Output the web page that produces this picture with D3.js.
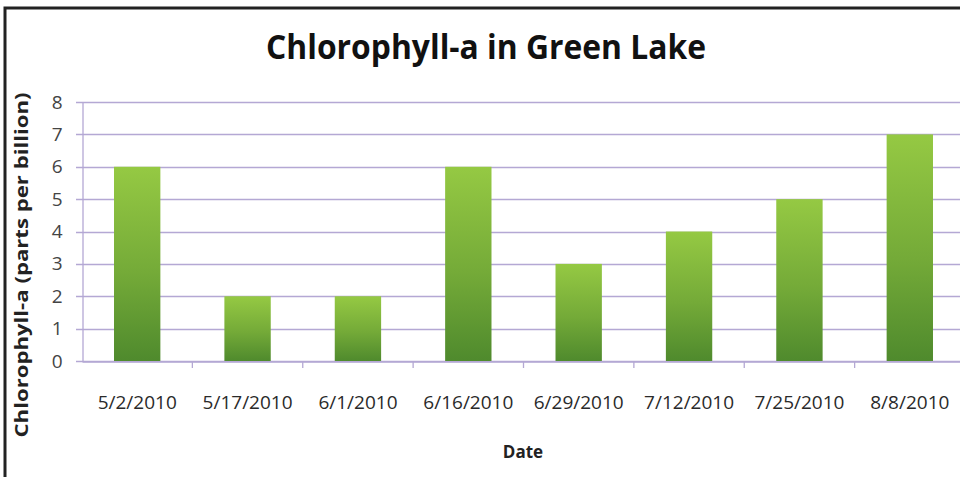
<!DOCTYPE html>
<html>
<head>
<meta charset="utf-8">
<script src="https://cdn.jsdelivr.net/npm/d3@7"></script>
<style>
  body { margin: 0; background: #fff; }
  svg { display: block; }
</style>
</head>
<body>
<svg id="chart"></svg>
<script>
// data
var dates = ["5/2/2010", "5/17/2010", "6/1/2010", "6/16/2010",
  "6/29/2010", "7/12/2010", "7/25/2010", "8/8/2010"];
var chlorophyll = [6, 2, 2, 6, 3, 4, 5, 7];
var yTicks = [0, 1, 2, 3, 4, 5, 6, 7, 8];

var width = 960, height = 477;
var plot = { left: 82, right: 965, top: 102, bottom: 361 };
var gridColor = "#b4a8d4";
var font = "'Open Sans', 'DejaVu Sans', sans-serif";

var svg = d3.select("#chart").attr("width", width).attr("height", height);

svg.append("rect").attr("width", width).attr("height", height).attr("fill", "#fff");

// bar gradient, yellow-green on top fading to darker green
var grad = svg.append("defs").append("linearGradient")
  .attr("id", "barFill")
  .attr("x1", 0).attr("y1", 0).attr("x2", 0).attr("y2", 1);
grad.append("stop").attr("offset", "0%").attr("stop-color", "#95c943");
grad.append("stop").attr("offset", "55%").attr("stop-color", "#74aa38");
grad.append("stop").attr("offset", "100%").attr("stop-color", "#4f8a2d");

var x = d3.scaleBand()
  .domain(dates)
  .range([plot.left, plot.right])
  .paddingInner(0.58)
  .paddingOuter(0.29);

var y = d3.scaleLinear()
  .domain([0, 8])
  .range([plot.bottom, plot.top]);

// horizontal grid lines
svg.append("g")
  .selectAll("line")
  .data(yTicks)
  .enter()
  .append("line")
  .attr("x1", plot.left - 6)
  .attr("x2", width)
  .attr("y1", (d) => Math.round(y(d)) + 0.5)
  .attr("y2", (d) => Math.round(y(d)) + 0.5)
  .attr("stroke", gridColor)
  .attr("stroke-width", 1.3);

// y axis
var yAxis = svg.append("g")
  .attr("transform", "translate(" + (plot.left + 0.5) + ",0)")
  .call(d3.axisLeft(y).tickValues(yTicks).tickSize(0).tickPadding(20));
yAxis.select(".domain").attr("stroke", gridColor).attr("stroke-width", 1.3);
yAxis.selectAll("text")
  .attr("font-family", font)
  .attr("font-size", 19)
  .attr("fill", "#444");

// bars
svg.append("g")
  .selectAll("rect")
  .data(chlorophyll)
  .enter()
  .append("rect")
  .attr("x", (d, i) => x(dates[i]))
  .attr("y", (d) => y(d))
  .attr("width", x.bandwidth())
  .attr("height", (d) => y(0) - y(d))
  .attr("fill", "url(#barFill)");

// x axis, ticks sit between categories
var xAxis = svg.append("g")
  .attr("transform", "translate(0," + (plot.bottom + 0.5) + ")")
  .call(d3.axisBottom(x).tickSize(0).tickPadding(34));
xAxis.select(".domain").attr("stroke", gridColor).attr("stroke-width", 1.3);
xAxis.selectAll("text")
  .attr("font-family", font)
  .attr("font-size", 19)
  .attr("fill", "#2a2a2a");

svg.append("g")
  .selectAll("line")
  .data(dates.slice(1))
  .enter()
  .append("line")
  .attr("x1", (d) => x(d) - x.step() * x.paddingInner() / 2)
  .attr("x2", (d) => x(d) - x.step() * x.paddingInner() / 2)
  .attr("y1", plot.bottom)
  .attr("y2", plot.bottom + 7)
  .attr("stroke", gridColor)
  .attr("stroke-width", 1.3);

// title and axis titles
svg.append("text")
  .attr("x", 486)
  .attr("y", 59)
  .attr("text-anchor", "middle")
  .attr("font-family", font)
  .attr("font-weight", "bold")
  .attr("font-size", 34)
  .attr("textLength", 440)
  .attr("lengthAdjust", "spacingAndGlyphs")
  .attr("fill", "#111")
  .text("Chlorophyll-a in Green Lake");

svg.append("text")
  .attr("x", 523)
  .attr("y", 458)
  .attr("text-anchor", "middle")
  .attr("font-family", font)
  .attr("font-weight", "bold")
  .attr("font-size", 17)
  .attr("fill", "#222")
  .text("Date");

svg.append("text")
  .attr("transform", "translate(28,265) rotate(-90)")
  .attr("text-anchor", "middle")
  .attr("font-family", font)
  .attr("font-weight", "bold")
  .attr("font-size", 17)
  .attr("textLength", 345)
  .attr("lengthAdjust", "spacingAndGlyphs")
  .attr("fill", "#222")
  .text("Chlorophyll-a (parts per billion)");

// frame on the left and top
svg.append("path")
  .attr("d", "M5,477 V8 H960")
  .attr("fill", "none")
  .attr("stroke", "#222")
  .attr("stroke-width", 3);
</script>
</body>
</html>
